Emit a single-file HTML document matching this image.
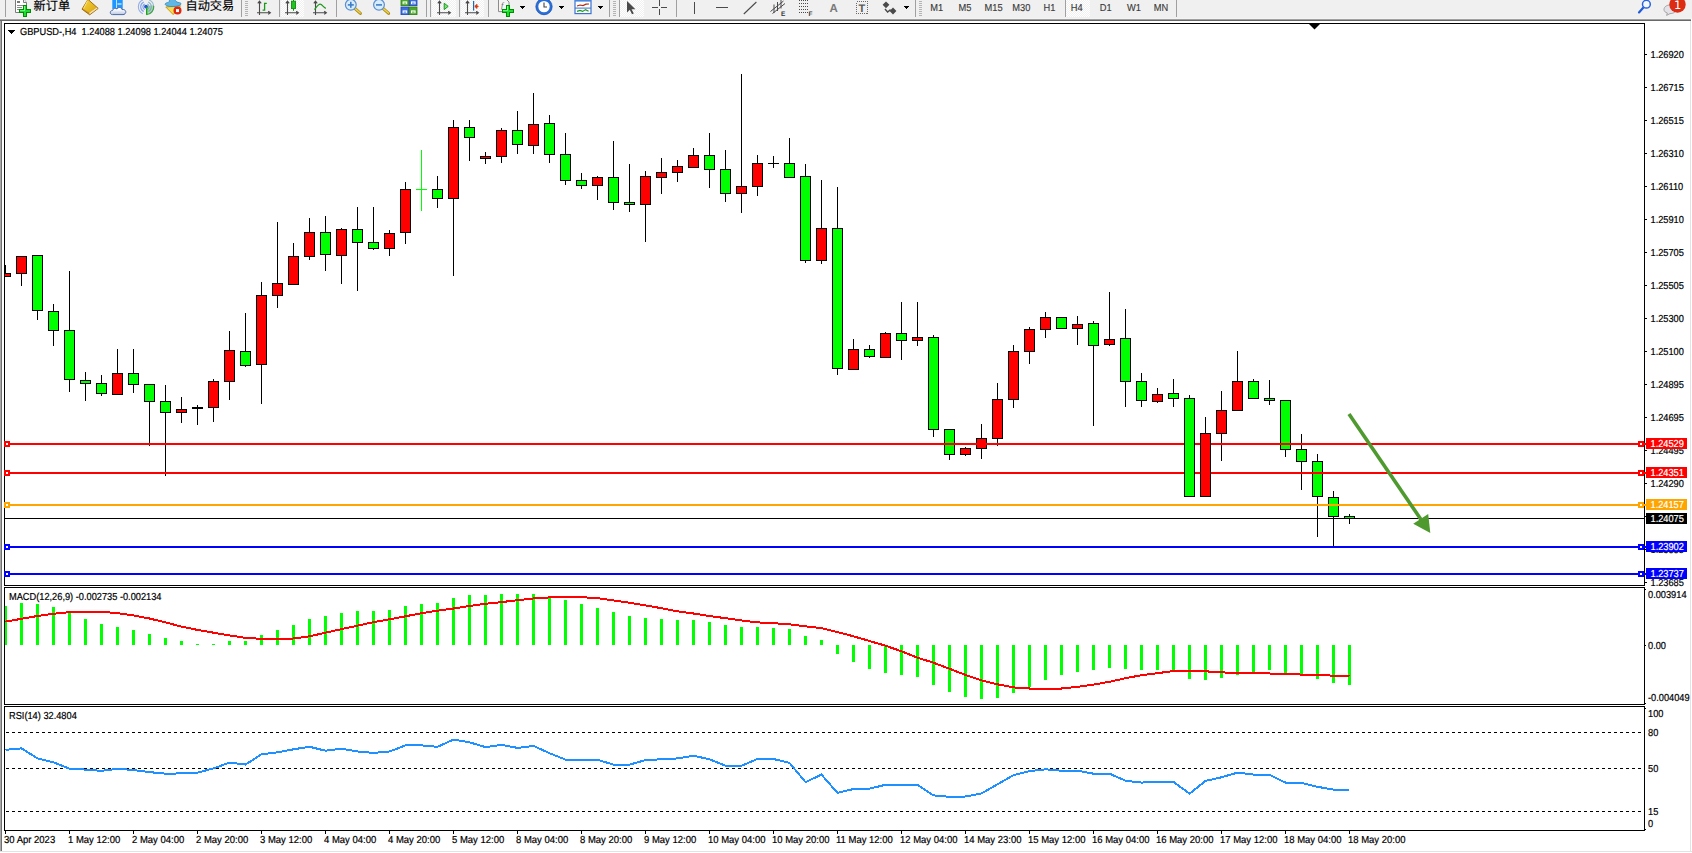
<!DOCTYPE html>
<html lang="zh"><head><meta charset="utf-8"><title>GBPUSD-,H4</title>
<style>html,body{margin:0;padding:0;background:#fff;width:1692px;height:853px;overflow:hidden}</style></head>
<body>
<svg width="1692" height="853" viewBox="0 0 1692 853" style="position:absolute;left:0;top:0;display:block" font-family="&quot;Liberation Sans&quot;, sans-serif" text-rendering="geometricPrecision">
<rect x="0" y="0" width="1692" height="853" fill="#fff"/>
<g shape-rendering="crispEdges">
<rect x="0" y="0" width="1692" height="19" fill="#f0f0f0"/>
<rect x="0" y="18" width="1692" height="1" fill="#f4f4f4"/>
<rect x="0" y="19" width="1691" height="1" fill="#a0a0a0"/>
<rect x="0" y="20" width="1691" height="1" fill="#696969"/>
<rect x="0" y="21" width="1" height="830" fill="#a8a8a8"/>
<rect x="1" y="21" width="1" height="830" fill="#707070"/>
<rect x="1690" y="21" width="1" height="830" fill="#e3e3e3"/>
<rect x="0" y="851" width="1692" height="1" fill="#e3e3e3"/>
<rect x="4" y="23" width="1641" height="1" fill="#000"/>
<rect x="4" y="585" width="1641" height="1" fill="#000"/>
<rect x="4" y="23" width="1" height="563" fill="#000"/>
<rect x="1644" y="23" width="1" height="563" fill="#000"/>
<rect x="4" y="587" width="1641" height="1" fill="#000"/>
<rect x="4" y="704" width="1641" height="1" fill="#000"/>
<rect x="4" y="587" width="1" height="118" fill="#000"/>
<rect x="1644" y="587" width="1" height="118" fill="#000"/>
<rect x="4" y="706" width="1641" height="1" fill="#000"/>
<rect x="4" y="830" width="1641" height="1" fill="#000"/>
<rect x="4" y="706" width="1" height="125" fill="#000"/>
<rect x="1644" y="706" width="1" height="125" fill="#000"/>
</g>
<defs><clipPath id="cm"><rect x="5" y="24" width="1639" height="561"/></clipPath><clipPath id="cd"><rect x="5" y="588" width="1639" height="116"/></clipPath><clipPath id="cr"><rect x="5" y="707" width="1639" height="123"/></clipPath></defs>
<g shape-rendering="crispEdges" clip-path="url(#cm)">
<rect x="5" y="265" width="1" height="12" fill="#000"/><rect x="0" y="273" width="11" height="4" fill="#000"/><rect x="1" y="274" width="9" height="2" fill="#f00"/>
<rect x="21" y="256" width="1" height="30" fill="#000"/><rect x="16" y="256" width="11" height="18" fill="#000"/><rect x="17" y="257" width="9" height="16" fill="#f00"/>
<rect x="37" y="255" width="1" height="65" fill="#000"/><rect x="32" y="255" width="11" height="56" fill="#000"/><rect x="33" y="256" width="9" height="54" fill="#0f0"/>
<rect x="53" y="304" width="1" height="42" fill="#000"/><rect x="48" y="311" width="11" height="20" fill="#000"/><rect x="49" y="312" width="9" height="18" fill="#0f0"/>
<rect x="69" y="271" width="1" height="121" fill="#000"/><rect x="64" y="330" width="11" height="50" fill="#000"/><rect x="65" y="331" width="9" height="48" fill="#0f0"/>
<rect x="85" y="372" width="1" height="29" fill="#000"/><rect x="80" y="380" width="11" height="4" fill="#000"/><rect x="81" y="381" width="9" height="2" fill="#0f0"/>
<rect x="101" y="375" width="1" height="21" fill="#000"/><rect x="96" y="383" width="11" height="11" fill="#000"/><rect x="97" y="384" width="9" height="9" fill="#0f0"/>
<rect x="117" y="349" width="1" height="46" fill="#000"/><rect x="112" y="373" width="11" height="22" fill="#000"/><rect x="113" y="374" width="9" height="20" fill="#f00"/>
<rect x="133" y="349" width="1" height="44" fill="#000"/><rect x="128" y="373" width="11" height="12" fill="#000"/><rect x="129" y="374" width="9" height="10" fill="#0f0"/>
<rect x="149" y="384" width="1" height="62" fill="#000"/><rect x="144" y="384" width="11" height="18" fill="#000"/><rect x="145" y="385" width="9" height="16" fill="#0f0"/>
<rect x="165" y="385" width="1" height="91" fill="#000"/><rect x="160" y="401" width="11" height="12" fill="#000"/><rect x="161" y="402" width="9" height="10" fill="#0f0"/>
<rect x="181" y="397" width="1" height="26" fill="#000"/><rect x="176" y="409" width="11" height="4" fill="#000"/><rect x="177" y="410" width="9" height="2" fill="#f00"/>
<rect x="197" y="405" width="1" height="20" fill="#000"/><rect x="192" y="407" width="11" height="2" fill="#000"/>
<rect x="213" y="379" width="1" height="43" fill="#000"/><rect x="208" y="381" width="11" height="27" fill="#000"/><rect x="209" y="382" width="9" height="25" fill="#f00"/>
<rect x="229" y="331" width="1" height="69" fill="#000"/><rect x="224" y="350" width="11" height="32" fill="#000"/><rect x="225" y="351" width="9" height="30" fill="#f00"/>
<rect x="245" y="313" width="1" height="54" fill="#000"/><rect x="240" y="351" width="11" height="15" fill="#000"/><rect x="241" y="352" width="9" height="13" fill="#0f0"/>
<rect x="261" y="282" width="1" height="122" fill="#000"/><rect x="256" y="295" width="11" height="70" fill="#000"/><rect x="257" y="296" width="9" height="68" fill="#f00"/>
<rect x="277" y="222" width="1" height="86" fill="#000"/><rect x="272" y="283" width="11" height="13" fill="#000"/><rect x="273" y="284" width="9" height="11" fill="#f00"/>
<rect x="293" y="243" width="1" height="42" fill="#000"/><rect x="288" y="256" width="11" height="29" fill="#000"/><rect x="289" y="257" width="9" height="27" fill="#f00"/>
<rect x="309" y="218" width="1" height="42" fill="#000"/><rect x="304" y="232" width="11" height="25" fill="#000"/><rect x="305" y="233" width="9" height="23" fill="#f00"/>
<rect x="325" y="216" width="1" height="55" fill="#000"/><rect x="320" y="232" width="11" height="23" fill="#000"/><rect x="321" y="233" width="9" height="21" fill="#0f0"/>
<rect x="341" y="228" width="1" height="56" fill="#000"/><rect x="336" y="229" width="11" height="27" fill="#000"/><rect x="337" y="230" width="9" height="25" fill="#f00"/>
<rect x="357" y="207" width="1" height="84" fill="#000"/><rect x="352" y="229" width="11" height="14" fill="#000"/><rect x="353" y="230" width="9" height="12" fill="#0f0"/>
<rect x="373" y="207" width="1" height="43" fill="#000"/><rect x="368" y="242" width="11" height="7" fill="#000"/><rect x="369" y="243" width="9" height="5" fill="#0f0"/>
<rect x="389" y="230" width="1" height="26" fill="#000"/><rect x="384" y="233" width="11" height="16" fill="#000"/><rect x="385" y="234" width="9" height="14" fill="#f00"/>
<rect x="405" y="182" width="1" height="62" fill="#000"/><rect x="400" y="189" width="11" height="44" fill="#000"/><rect x="401" y="190" width="9" height="42" fill="#f00"/>
<rect x="421" y="150" width="1" height="61" fill="#0f0"/><rect x="416" y="189" width="11" height="1" fill="#0f0"/>
<rect x="437" y="176" width="1" height="32" fill="#000"/><rect x="432" y="189" width="11" height="10" fill="#000"/><rect x="433" y="190" width="9" height="8" fill="#0f0"/>
<rect x="453" y="120" width="1" height="156" fill="#000"/><rect x="448" y="127" width="11" height="72" fill="#000"/><rect x="449" y="128" width="9" height="70" fill="#f00"/>
<rect x="469" y="120" width="1" height="41" fill="#000"/><rect x="464" y="127" width="11" height="11" fill="#000"/><rect x="465" y="128" width="9" height="9" fill="#0f0"/>
<rect x="485" y="152" width="1" height="12" fill="#000"/><rect x="480" y="156" width="11" height="3" fill="#000"/><rect x="481" y="157" width="9" height="1" fill="#f00"/>
<rect x="501" y="128" width="1" height="35" fill="#000"/><rect x="496" y="130" width="11" height="27" fill="#000"/><rect x="497" y="131" width="9" height="25" fill="#f00"/>
<rect x="517" y="111" width="1" height="43" fill="#000"/><rect x="512" y="130" width="11" height="15" fill="#000"/><rect x="513" y="131" width="9" height="13" fill="#0f0"/>
<rect x="533" y="93" width="1" height="61" fill="#000"/><rect x="528" y="124" width="11" height="22" fill="#000"/><rect x="529" y="125" width="9" height="20" fill="#f00"/>
<rect x="549" y="115" width="1" height="48" fill="#000"/><rect x="544" y="123" width="11" height="32" fill="#000"/><rect x="545" y="124" width="9" height="30" fill="#0f0"/>
<rect x="565" y="133" width="1" height="52" fill="#000"/><rect x="560" y="154" width="11" height="27" fill="#000"/><rect x="561" y="155" width="9" height="25" fill="#0f0"/>
<rect x="581" y="173" width="1" height="16" fill="#000"/><rect x="576" y="180" width="11" height="6" fill="#000"/><rect x="577" y="181" width="9" height="4" fill="#0f0"/>
<rect x="597" y="176" width="1" height="24" fill="#000"/><rect x="592" y="177" width="11" height="9" fill="#000"/><rect x="593" y="178" width="9" height="7" fill="#f00"/>
<rect x="613" y="141" width="1" height="69" fill="#000"/><rect x="608" y="177" width="11" height="26" fill="#000"/><rect x="609" y="178" width="9" height="24" fill="#0f0"/>
<rect x="629" y="164" width="1" height="48" fill="#000"/><rect x="624" y="202" width="11" height="3" fill="#000"/><rect x="625" y="203" width="9" height="1" fill="#0f0"/>
<rect x="645" y="171" width="1" height="71" fill="#000"/><rect x="640" y="176" width="11" height="29" fill="#000"/><rect x="641" y="177" width="9" height="27" fill="#f00"/>
<rect x="661" y="158" width="1" height="36" fill="#000"/><rect x="656" y="172" width="11" height="6" fill="#000"/><rect x="657" y="173" width="9" height="4" fill="#f00"/>
<rect x="677" y="160" width="1" height="22" fill="#000"/><rect x="672" y="166" width="11" height="7" fill="#000"/><rect x="673" y="167" width="9" height="5" fill="#f00"/>
<rect x="693" y="148" width="1" height="20" fill="#000"/><rect x="688" y="155" width="11" height="13" fill="#000"/><rect x="689" y="156" width="9" height="11" fill="#f00"/>
<rect x="709" y="133" width="1" height="55" fill="#000"/><rect x="704" y="155" width="11" height="15" fill="#000"/><rect x="705" y="156" width="9" height="13" fill="#0f0"/>
<rect x="725" y="150" width="1" height="52" fill="#000"/><rect x="720" y="169" width="11" height="25" fill="#000"/><rect x="721" y="170" width="9" height="23" fill="#0f0"/>
<rect x="741" y="74" width="1" height="139" fill="#000"/><rect x="736" y="186" width="11" height="8" fill="#000"/><rect x="737" y="187" width="9" height="6" fill="#f00"/>
<rect x="757" y="155" width="1" height="41" fill="#000"/><rect x="752" y="163" width="11" height="24" fill="#000"/><rect x="753" y="164" width="9" height="22" fill="#f00"/>
<rect x="773" y="156" width="1" height="12" fill="#000"/><rect x="768" y="163" width="11" height="1" fill="#000"/>
<rect x="789" y="138" width="1" height="40" fill="#000"/><rect x="784" y="163" width="11" height="15" fill="#000"/><rect x="785" y="164" width="9" height="13" fill="#0f0"/>
<rect x="805" y="164" width="1" height="99" fill="#000"/><rect x="800" y="176" width="11" height="85" fill="#000"/><rect x="801" y="177" width="9" height="83" fill="#0f0"/>
<rect x="821" y="180" width="1" height="84" fill="#000"/><rect x="816" y="228" width="11" height="33" fill="#000"/><rect x="817" y="229" width="9" height="31" fill="#f00"/>
<rect x="837" y="187" width="1" height="188" fill="#000"/><rect x="832" y="228" width="11" height="141" fill="#000"/><rect x="833" y="229" width="9" height="139" fill="#0f0"/>
<rect x="853" y="339" width="1" height="31" fill="#000"/><rect x="848" y="349" width="11" height="21" fill="#000"/><rect x="849" y="350" width="9" height="19" fill="#f00"/>
<rect x="869" y="345" width="1" height="13" fill="#000"/><rect x="864" y="349" width="11" height="8" fill="#000"/><rect x="865" y="350" width="9" height="6" fill="#0f0"/>
<rect x="885" y="332" width="1" height="26" fill="#000"/><rect x="880" y="333" width="11" height="25" fill="#000"/><rect x="881" y="334" width="9" height="23" fill="#f00"/>
<rect x="901" y="302" width="1" height="58" fill="#000"/><rect x="896" y="333" width="11" height="8" fill="#000"/><rect x="897" y="334" width="9" height="6" fill="#0f0"/>
<rect x="917" y="302" width="1" height="44" fill="#000"/><rect x="912" y="337" width="11" height="4" fill="#000"/><rect x="913" y="338" width="9" height="2" fill="#f00"/>
<rect x="933" y="335" width="1" height="102" fill="#000"/><rect x="928" y="337" width="11" height="93" fill="#000"/><rect x="929" y="338" width="9" height="91" fill="#0f0"/>
<rect x="949" y="429" width="1" height="31" fill="#000"/><rect x="944" y="429" width="11" height="26" fill="#000"/><rect x="945" y="430" width="9" height="24" fill="#0f0"/>
<rect x="965" y="447" width="1" height="9" fill="#000"/><rect x="960" y="448" width="11" height="7" fill="#000"/><rect x="961" y="449" width="9" height="5" fill="#f00"/>
<rect x="981" y="424" width="1" height="35" fill="#000"/><rect x="976" y="438" width="11" height="11" fill="#000"/><rect x="977" y="439" width="9" height="9" fill="#f00"/>
<rect x="997" y="383" width="1" height="63" fill="#000"/><rect x="992" y="399" width="11" height="40" fill="#000"/><rect x="993" y="400" width="9" height="38" fill="#f00"/>
<rect x="1013" y="345" width="1" height="63" fill="#000"/><rect x="1008" y="351" width="11" height="49" fill="#000"/><rect x="1009" y="352" width="9" height="47" fill="#f00"/>
<rect x="1029" y="327" width="1" height="37" fill="#000"/><rect x="1024" y="329" width="11" height="23" fill="#000"/><rect x="1025" y="330" width="9" height="21" fill="#f00"/>
<rect x="1045" y="312" width="1" height="26" fill="#000"/><rect x="1040" y="317" width="11" height="13" fill="#000"/><rect x="1041" y="318" width="9" height="11" fill="#f00"/>
<rect x="1061" y="317" width="1" height="12" fill="#000"/><rect x="1056" y="317" width="11" height="12" fill="#000"/><rect x="1057" y="318" width="9" height="10" fill="#0f0"/>
<rect x="1077" y="316" width="1" height="29" fill="#000"/><rect x="1072" y="324" width="11" height="5" fill="#000"/><rect x="1073" y="325" width="9" height="3" fill="#f00"/>
<rect x="1093" y="321" width="1" height="105" fill="#000"/><rect x="1088" y="323" width="11" height="23" fill="#000"/><rect x="1089" y="324" width="9" height="21" fill="#0f0"/>
<rect x="1109" y="292" width="1" height="54" fill="#000"/><rect x="1104" y="339" width="11" height="6" fill="#000"/><rect x="1105" y="340" width="9" height="4" fill="#f00"/>
<rect x="1125" y="309" width="1" height="98" fill="#000"/><rect x="1120" y="338" width="11" height="44" fill="#000"/><rect x="1121" y="339" width="9" height="42" fill="#0f0"/>
<rect x="1141" y="373" width="1" height="34" fill="#000"/><rect x="1136" y="381" width="11" height="20" fill="#000"/><rect x="1137" y="382" width="9" height="18" fill="#0f0"/>
<rect x="1157" y="388" width="1" height="15" fill="#000"/><rect x="1152" y="394" width="11" height="8" fill="#000"/><rect x="1153" y="395" width="9" height="6" fill="#f00"/>
<rect x="1173" y="379" width="1" height="28" fill="#000"/><rect x="1168" y="393" width="11" height="6" fill="#000"/><rect x="1169" y="394" width="9" height="4" fill="#0f0"/>
<rect x="1221" y="391" width="1" height="70" fill="#000"/><rect x="1216" y="410" width="11" height="24" fill="#000"/><rect x="1217" y="411" width="9" height="22" fill="#f00"/>
<rect x="1237" y="351" width="1" height="60" fill="#000"/><rect x="1232" y="381" width="11" height="30" fill="#000"/><rect x="1233" y="382" width="9" height="28" fill="#f00"/>
<rect x="1253" y="379" width="1" height="20" fill="#000"/><rect x="1248" y="381" width="11" height="18" fill="#000"/><rect x="1249" y="382" width="9" height="16" fill="#0f0"/>
<rect x="1269" y="380" width="1" height="25" fill="#000"/><rect x="1264" y="398" width="11" height="3" fill="#000"/><rect x="1265" y="399" width="9" height="1" fill="#0f0"/>
<rect x="1285" y="400" width="1" height="57" fill="#000"/><rect x="1280" y="400" width="11" height="50" fill="#000"/><rect x="1281" y="401" width="9" height="48" fill="#0f0"/>
<rect x="1301" y="434" width="1" height="56" fill="#000"/><rect x="1296" y="449" width="11" height="13" fill="#000"/><rect x="1297" y="450" width="9" height="11" fill="#0f0"/>
<rect x="1317" y="454" width="1" height="83" fill="#000"/><rect x="1312" y="461" width="11" height="36" fill="#000"/><rect x="1313" y="462" width="9" height="34" fill="#0f0"/>
<rect x="1333" y="491" width="1" height="55" fill="#000"/><rect x="1328" y="497" width="11" height="20" fill="#000"/><rect x="1329" y="498" width="9" height="18" fill="#0f0"/>
<rect x="1349" y="514" width="1" height="10" fill="#000"/><rect x="1344" y="516" width="11" height="3" fill="#000"/><rect x="1345" y="517" width="9" height="1" fill="#0f0"/>
<rect x="5" y="518" width="1639" height="1" fill="#000"/>
<rect x="5" y="443" width="1639" height="2" fill="#f00"/>
<rect x="5" y="472" width="1639" height="2" fill="#f00"/>
<rect x="5" y="504" width="1639" height="2" fill="#ffa500"/>
<rect x="5" y="546" width="1639" height="2" fill="#00f"/>
<rect x="5" y="573" width="1639" height="2" fill="#00f"/>
<rect x="1189" y="395" width="1" height="102" fill="#000"/><rect x="1184" y="398" width="11" height="99" fill="#000"/><rect x="1185" y="399" width="9" height="97" fill="#0f0"/>
<rect x="1205" y="417" width="1" height="80" fill="#000"/><rect x="1200" y="433" width="11" height="64" fill="#000"/><rect x="1201" y="434" width="9" height="62" fill="#f00"/>
<path d="M1309 24 L1320 24 L1314.5 29.5 Z" fill="#000" shape-rendering="geometricPrecision"/>
</g>
<g shape-rendering="crispEdges">
<rect x="1644" y="443" width="2" height="2" fill="#f00"/>
<rect x="1644" y="472" width="2" height="2" fill="#f00"/>
<rect x="1644" y="504" width="2" height="2" fill="#ffa500"/>
<rect x="1644" y="546" width="2" height="2" fill="#00f"/>
<rect x="1644" y="573" width="2" height="2" fill="#00f"/>
<rect x="4" y="441" width="6" height="6" fill="#f00"/>
<rect x="6" y="443" width="2" height="2" fill="#fff"/>
<rect x="1638" y="441" width="6" height="6" fill="#f00"/>
<rect x="1640" y="443" width="2" height="2" fill="#fff"/>
<rect x="4" y="470" width="6" height="6" fill="#f00"/>
<rect x="6" y="472" width="2" height="2" fill="#fff"/>
<rect x="1638" y="470" width="6" height="6" fill="#f00"/>
<rect x="1640" y="472" width="2" height="2" fill="#fff"/>
<rect x="4" y="502" width="6" height="6" fill="#ffa500"/>
<rect x="6" y="504" width="2" height="2" fill="#fff"/>
<rect x="1638" y="502" width="6" height="6" fill="#ffa500"/>
<rect x="1640" y="504" width="2" height="2" fill="#fff"/>
<rect x="4" y="544" width="6" height="6" fill="#00f"/>
<rect x="6" y="546" width="2" height="2" fill="#fff"/>
<rect x="1638" y="544" width="6" height="6" fill="#00f"/>
<rect x="1640" y="546" width="2" height="2" fill="#fff"/>
<rect x="4" y="571" width="6" height="6" fill="#00f"/>
<rect x="6" y="573" width="2" height="2" fill="#fff"/>
<rect x="1638" y="571" width="6" height="6" fill="#00f"/>
<rect x="1640" y="573" width="2" height="2" fill="#fff"/>
</g>
<g clip-path="url(#cm)"><line x1="1349" y1="414" x2="1422" y2="521" stroke="#4f9a2f" stroke-width="3.6"/><path d="M1430.3 533 L1413.2 523.7 L1428.2 514.1 Z" fill="#4f9a2f"/></g>
<g shape-rendering="crispEdges" clip-path="url(#cd)">
<rect x="4" y="606" width="3" height="39" fill="#0f0"/>
<rect x="20" y="603" width="3" height="42" fill="#0f0"/>
<rect x="36" y="604" width="3" height="41" fill="#0f0"/>
<rect x="52" y="607" width="3" height="38" fill="#0f0"/>
<rect x="68" y="613" width="3" height="32" fill="#0f0"/>
<rect x="84" y="619" width="3" height="26" fill="#0f0"/>
<rect x="100" y="624" width="3" height="21" fill="#0f0"/>
<rect x="116" y="627" width="3" height="18" fill="#0f0"/>
<rect x="132" y="630" width="3" height="15" fill="#0f0"/>
<rect x="148" y="634" width="3" height="11" fill="#0f0"/>
<rect x="164" y="638" width="3" height="7" fill="#0f0"/>
<rect x="180" y="641" width="3" height="4" fill="#0f0"/>
<rect x="196" y="644" width="3" height="1" fill="#0f0"/>
<rect x="212" y="644" width="3" height="1" fill="#0f0"/>
<rect x="228" y="641" width="3" height="4" fill="#0f0"/>
<rect x="244" y="641" width="3" height="4" fill="#0f0"/>
<rect x="260" y="635" width="3" height="10" fill="#0f0"/>
<rect x="276" y="630" width="3" height="15" fill="#0f0"/>
<rect x="292" y="625" width="3" height="20" fill="#0f0"/>
<rect x="308" y="619" width="3" height="26" fill="#0f0"/>
<rect x="324" y="616" width="3" height="29" fill="#0f0"/>
<rect x="340" y="613" width="3" height="32" fill="#0f0"/>
<rect x="356" y="611" width="3" height="34" fill="#0f0"/>
<rect x="372" y="611" width="3" height="34" fill="#0f0"/>
<rect x="388" y="610" width="3" height="35" fill="#0f0"/>
<rect x="404" y="606" width="3" height="39" fill="#0f0"/>
<rect x="420" y="604" width="3" height="41" fill="#0f0"/>
<rect x="436" y="603" width="3" height="42" fill="#0f0"/>
<rect x="452" y="598" width="3" height="47" fill="#0f0"/>
<rect x="468" y="595" width="3" height="50" fill="#0f0"/>
<rect x="484" y="595" width="3" height="50" fill="#0f0"/>
<rect x="500" y="594" width="3" height="51" fill="#0f0"/>
<rect x="516" y="594" width="3" height="51" fill="#0f0"/>
<rect x="532" y="594" width="3" height="51" fill="#0f0"/>
<rect x="548" y="596" width="3" height="49" fill="#0f0"/>
<rect x="564" y="600" width="3" height="45" fill="#0f0"/>
<rect x="580" y="604" width="3" height="41" fill="#0f0"/>
<rect x="596" y="608" width="3" height="37" fill="#0f0"/>
<rect x="612" y="612" width="3" height="33" fill="#0f0"/>
<rect x="628" y="616" width="3" height="29" fill="#0f0"/>
<rect x="644" y="618" width="3" height="27" fill="#0f0"/>
<rect x="660" y="619" width="3" height="26" fill="#0f0"/>
<rect x="676" y="620" width="3" height="25" fill="#0f0"/>
<rect x="692" y="620" width="3" height="25" fill="#0f0"/>
<rect x="708" y="622" width="3" height="23" fill="#0f0"/>
<rect x="724" y="625" width="3" height="20" fill="#0f0"/>
<rect x="740" y="627" width="3" height="18" fill="#0f0"/>
<rect x="756" y="627" width="3" height="18" fill="#0f0"/>
<rect x="772" y="628" width="3" height="17" fill="#0f0"/>
<rect x="788" y="629" width="3" height="16" fill="#0f0"/>
<rect x="804" y="636" width="3" height="9" fill="#0f0"/>
<rect x="820" y="640" width="3" height="5" fill="#0f0"/>
<rect x="836" y="645" width="3" height="9" fill="#0f0"/>
<rect x="852" y="645" width="3" height="17" fill="#0f0"/>
<rect x="868" y="645" width="3" height="24" fill="#0f0"/>
<rect x="884" y="645" width="3" height="28" fill="#0f0"/>
<rect x="900" y="645" width="3" height="30" fill="#0f0"/>
<rect x="916" y="645" width="3" height="32" fill="#0f0"/>
<rect x="932" y="645" width="3" height="40" fill="#0f0"/>
<rect x="948" y="645" width="3" height="47" fill="#0f0"/>
<rect x="964" y="645" width="3" height="52" fill="#0f0"/>
<rect x="980" y="645" width="3" height="54" fill="#0f0"/>
<rect x="996" y="645" width="3" height="53" fill="#0f0"/>
<rect x="1012" y="645" width="3" height="48" fill="#0f0"/>
<rect x="1028" y="645" width="3" height="42" fill="#0f0"/>
<rect x="1044" y="645" width="3" height="35" fill="#0f0"/>
<rect x="1060" y="645" width="3" height="30" fill="#0f0"/>
<rect x="1076" y="645" width="3" height="27" fill="#0f0"/>
<rect x="1092" y="645" width="3" height="25" fill="#0f0"/>
<rect x="1108" y="645" width="3" height="23" fill="#0f0"/>
<rect x="1124" y="645" width="3" height="24" fill="#0f0"/>
<rect x="1140" y="645" width="3" height="25" fill="#0f0"/>
<rect x="1156" y="645" width="3" height="25" fill="#0f0"/>
<rect x="1172" y="645" width="3" height="25" fill="#0f0"/>
<rect x="1188" y="645" width="3" height="34" fill="#0f0"/>
<rect x="1204" y="645" width="3" height="35" fill="#0f0"/>
<rect x="1220" y="645" width="3" height="33" fill="#0f0"/>
<rect x="1236" y="645" width="3" height="30" fill="#0f0"/>
<rect x="1252" y="645" width="3" height="28" fill="#0f0"/>
<rect x="1268" y="645" width="3" height="25" fill="#0f0"/>
<rect x="1284" y="645" width="3" height="29" fill="#0f0"/>
<rect x="1300" y="645" width="3" height="30" fill="#0f0"/>
<rect x="1316" y="645" width="3" height="34" fill="#0f0"/>
<rect x="1332" y="645" width="3" height="38" fill="#0f0"/>
<rect x="1348" y="645" width="3" height="40" fill="#0f0"/>
<polyline points="5.5,621.6 21.5,618.8 37.5,616.0 53.5,613.8 69.5,612.1 85.5,611.8 101.5,611.8 117.5,613.2 133.5,615.4 149.5,618.5 165.5,622.4 181.5,626.6 197.5,629.9 213.5,632.7 229.5,635.4 245.5,637.9 261.5,638.8 277.5,638.8 293.5,638.5 309.5,636.3 325.5,632.7 341.5,629.1 357.5,625.7 373.5,622.1 389.5,619.3 405.5,616.3 421.5,613.2 437.5,610.7 453.5,608.5 469.5,606.0 485.5,603.8 501.5,602.1 517.5,600.2 533.5,598.5 549.5,597.4 565.5,597.1 581.5,597.1 597.5,598.2 613.5,600.4 629.5,602.7 645.5,605.4 661.5,608.2 677.5,611.3 693.5,613.5 709.5,616.0 725.5,618.2 741.5,620.4 757.5,622.4 773.5,623.2 789.5,624.3 805.5,626.3 821.5,628.2 837.5,632.1 853.5,636.3 869.5,641.0 885.5,645.7 901.5,651.3 917.5,657.7 933.5,662.7 949.5,668.8 965.5,674.9 981.5,680.4 997.5,684.3 1013.5,687.4 1029.5,688.5 1045.5,688.5 1061.5,688.5 1077.5,686.8 1093.5,684.6 1109.5,681.8 1125.5,678.2 1141.5,675.2 1157.5,673.2 1173.5,671.0 1189.5,670.7 1205.5,671.3 1221.5,672.4 1237.5,672.9 1253.5,672.9 1269.5,673.5 1285.5,673.8 1301.5,674.6 1317.5,674.9 1333.5,675.7 1349.5,676.0" fill="none" stroke="#f00" stroke-width="2"/>
</g>
<g shape-rendering="crispEdges" clip-path="url(#cr)">
<line x1="6" y1="732.5" x2="1644" y2="732.5" stroke="#000" stroke-width="1" stroke-dasharray="3 3"/>
<line x1="6" y1="768.5" x2="1644" y2="768.5" stroke="#000" stroke-width="1" stroke-dasharray="3 3"/>
<line x1="6" y1="811.5" x2="1644" y2="811.5" stroke="#000" stroke-width="1" stroke-dasharray="3 3"/>
<polyline points="5.5,749.8 21.5,748.4 37.5,758.4 53.5,762.3 69.5,768.7 85.5,769.6 101.5,770.9 117.5,768.7 133.5,770.1 149.5,772.1 165.5,773.7 181.5,773.4 197.5,772.6 213.5,768.4 229.5,762.6 245.5,764.6 261.5,754.3 277.5,752.3 293.5,749.3 309.5,746.8 325.5,750.7 341.5,748.7 357.5,751.5 373.5,752.9 389.5,751.5 405.5,745.4 421.5,745.4 437.5,746.8 453.5,739.6 469.5,742.3 485.5,747.1 501.5,744.8 517.5,747.9 533.5,745.9 549.5,753.2 565.5,759.6 581.5,759.8 597.5,759.8 613.5,764.6 629.5,764.6 645.5,760.1 661.5,759.3 677.5,758.4 693.5,755.7 709.5,759.3 725.5,765.7 741.5,765.7 757.5,759.0 773.5,759.0 789.5,762.9 805.5,782.1 821.5,774.6 837.5,792.9 853.5,789.0 869.5,788.7 885.5,784.8 901.5,784.8 917.5,784.8 933.5,795.4 949.5,796.8 965.5,796.5 981.5,793.4 997.5,784.3 1013.5,775.1 1029.5,771.2 1045.5,769.3 1061.5,770.7 1077.5,770.7 1093.5,773.7 1109.5,773.7 1125.5,780.7 1141.5,782.6 1157.5,781.8 1173.5,781.8 1189.5,793.7 1205.5,780.9 1221.5,777.3 1237.5,772.6 1253.5,774.6 1269.5,774.8 1285.5,782.6 1301.5,782.9 1317.5,786.8 1333.5,789.6 1349.5,789.8" fill="none" stroke="#1e90ff" stroke-width="2"/>
</g>
<g shape-rendering="crispEdges">
<rect x="1645" y="54" width="2" height="1" fill="#000"/>
<rect x="1645" y="87" width="2" height="1" fill="#000"/>
<rect x="1645" y="120" width="2" height="1" fill="#000"/>
<rect x="1645" y="153" width="2" height="1" fill="#000"/>
<rect x="1645" y="186" width="2" height="1" fill="#000"/>
<rect x="1645" y="219" width="2" height="1" fill="#000"/>
<rect x="1645" y="252" width="2" height="1" fill="#000"/>
<rect x="1645" y="285" width="2" height="1" fill="#000"/>
<rect x="1645" y="318" width="2" height="1" fill="#000"/>
<rect x="1645" y="351" width="2" height="1" fill="#000"/>
<rect x="1645" y="384" width="2" height="1" fill="#000"/>
<rect x="1645" y="417" width="2" height="1" fill="#000"/>
<rect x="1645" y="450" width="2" height="1" fill="#000"/>
<rect x="1645" y="483" width="2" height="1" fill="#000"/>
<rect x="1645" y="516" width="2" height="1" fill="#000"/>
<rect x="1645" y="549" width="2" height="1" fill="#000"/>
<rect x="1645" y="582" width="2" height="1" fill="#000"/>
<rect x="1645" y="589" width="1" height="1" fill="#000"/>
<rect x="1645" y="645" width="1" height="1" fill="#000"/>
<rect x="1645" y="703" width="1" height="1" fill="#000"/>
<rect x="1645" y="708" width="1" height="1" fill="#000"/>
<rect x="1645" y="829" width="1" height="1" fill="#000"/>
<rect x="5" y="831" width="1" height="3" fill="#000"/>
<rect x="69" y="831" width="1" height="3" fill="#000"/>
<rect x="133" y="831" width="1" height="3" fill="#000"/>
<rect x="197" y="831" width="1" height="3" fill="#000"/>
<rect x="261" y="831" width="1" height="3" fill="#000"/>
<rect x="325" y="831" width="1" height="3" fill="#000"/>
<rect x="389" y="831" width="1" height="3" fill="#000"/>
<rect x="453" y="831" width="1" height="3" fill="#000"/>
<rect x="517" y="831" width="1" height="3" fill="#000"/>
<rect x="581" y="831" width="1" height="3" fill="#000"/>
<rect x="645" y="831" width="1" height="3" fill="#000"/>
<rect x="709" y="831" width="1" height="3" fill="#000"/>
<rect x="773" y="831" width="1" height="3" fill="#000"/>
<rect x="837" y="831" width="1" height="3" fill="#000"/>
<rect x="901" y="831" width="1" height="3" fill="#000"/>
<rect x="965" y="831" width="1" height="3" fill="#000"/>
<rect x="1029" y="831" width="1" height="3" fill="#000"/>
<rect x="1093" y="831" width="1" height="3" fill="#000"/>
<rect x="1157" y="831" width="1" height="3" fill="#000"/>
<rect x="1221" y="831" width="1" height="3" fill="#000"/>
<rect x="1285" y="831" width="1" height="3" fill="#000"/>
<rect x="1349" y="831" width="1" height="3" fill="#000"/>
</g>
<text transform="translate(1650.5 58) scale(0.915 1)" font-size="10.1" fill="#000" stroke="#000" stroke-width="0.2" text-anchor="start">1.26920</text>
<text transform="translate(1650.5 91) scale(0.915 1)" font-size="10.1" fill="#000" stroke="#000" stroke-width="0.2" text-anchor="start">1.26715</text>
<text transform="translate(1650.5 124) scale(0.915 1)" font-size="10.1" fill="#000" stroke="#000" stroke-width="0.2" text-anchor="start">1.26515</text>
<text transform="translate(1650.5 157) scale(0.915 1)" font-size="10.1" fill="#000" stroke="#000" stroke-width="0.2" text-anchor="start">1.26310</text>
<text transform="translate(1650.5 190) scale(0.915 1)" font-size="10.1" fill="#000" stroke="#000" stroke-width="0.2" text-anchor="start">1.26110</text>
<text transform="translate(1650.5 223) scale(0.915 1)" font-size="10.1" fill="#000" stroke="#000" stroke-width="0.2" text-anchor="start">1.25910</text>
<text transform="translate(1650.5 256) scale(0.915 1)" font-size="10.1" fill="#000" stroke="#000" stroke-width="0.2" text-anchor="start">1.25705</text>
<text transform="translate(1650.5 289) scale(0.915 1)" font-size="10.1" fill="#000" stroke="#000" stroke-width="0.2" text-anchor="start">1.25505</text>
<text transform="translate(1650.5 322) scale(0.915 1)" font-size="10.1" fill="#000" stroke="#000" stroke-width="0.2" text-anchor="start">1.25300</text>
<text transform="translate(1650.5 355) scale(0.915 1)" font-size="10.1" fill="#000" stroke="#000" stroke-width="0.2" text-anchor="start">1.25100</text>
<text transform="translate(1650.5 388) scale(0.915 1)" font-size="10.1" fill="#000" stroke="#000" stroke-width="0.2" text-anchor="start">1.24895</text>
<text transform="translate(1650.5 421) scale(0.915 1)" font-size="10.1" fill="#000" stroke="#000" stroke-width="0.2" text-anchor="start">1.24695</text>
<text transform="translate(1650.5 454) scale(0.915 1)" font-size="10.1" fill="#000" stroke="#000" stroke-width="0.2" text-anchor="start">1.24495</text>
<text transform="translate(1650.5 487) scale(0.915 1)" font-size="10.1" fill="#000" stroke="#000" stroke-width="0.2" text-anchor="start">1.24290</text>
<text transform="translate(1650.5 553) scale(0.915 1)" font-size="10.1" fill="#000" stroke="#000" stroke-width="0.2" text-anchor="start">1.23885</text>
<text transform="translate(1650.5 586) scale(0.915 1)" font-size="10.1" fill="#000" stroke="#000" stroke-width="0.2" text-anchor="start">1.23685</text>
<rect x="1646" y="438.0" width="41" height="11" fill="#f00" shape-rendering="crispEdges"/>
<text transform="translate(1650.5 447.0) scale(0.915 1)" font-size="10.1" fill="#fff" stroke="#fff" stroke-width="0.2" text-anchor="start">1.24529</text>
<rect x="1646" y="467.0" width="41" height="11" fill="#f00" shape-rendering="crispEdges"/>
<text transform="translate(1650.5 476.0) scale(0.915 1)" font-size="10.1" fill="#fff" stroke="#fff" stroke-width="0.2" text-anchor="start">1.24351</text>
<rect x="1646" y="499.0" width="41" height="11" fill="#ffa500" shape-rendering="crispEdges"/>
<text transform="translate(1650.5 508.0) scale(0.915 1)" font-size="10.1" fill="#fff" stroke="#fff" stroke-width="0.2" text-anchor="start">1.24157</text>
<rect x="1646" y="513.0" width="41" height="11" fill="#000" shape-rendering="crispEdges"/>
<text transform="translate(1650.5 522.0) scale(0.915 1)" font-size="10.1" fill="#fff" stroke="#fff" stroke-width="0.2" text-anchor="start">1.24075</text>
<rect x="1646" y="541.0" width="41" height="11" fill="#00f" shape-rendering="crispEdges"/>
<text transform="translate(1650.5 550.0) scale(0.915 1)" font-size="10.1" fill="#fff" stroke="#fff" stroke-width="0.2" text-anchor="start">1.23902</text>
<rect x="1646" y="568.0" width="41" height="11" fill="#00f" shape-rendering="crispEdges"/>
<text transform="translate(1650.5 577.0) scale(0.915 1)" font-size="10.1" fill="#fff" stroke="#fff" stroke-width="0.2" text-anchor="start">1.23737</text>
<text transform="translate(1648 598) scale(0.915 1)" font-size="10.1" fill="#000" stroke="#000" stroke-width="0.2" text-anchor="start">0.003914</text>
<text transform="translate(1648 649) scale(0.915 1)" font-size="10.1" fill="#000" stroke="#000" stroke-width="0.2" text-anchor="start">0.00</text>
<text transform="translate(1648 701) scale(0.915 1)" font-size="10.1" fill="#000" stroke="#000" stroke-width="0.2" text-anchor="start">-0.004049</text>
<text transform="translate(1648 717) scale(0.915 1)" font-size="10.1" fill="#000" stroke="#000" stroke-width="0.2" text-anchor="start">100</text>
<text transform="translate(1648 736) scale(0.915 1)" font-size="10.1" fill="#000" stroke="#000" stroke-width="0.2" text-anchor="start">80</text>
<text transform="translate(1648 772) scale(0.915 1)" font-size="10.1" fill="#000" stroke="#000" stroke-width="0.2" text-anchor="start">50</text>
<text transform="translate(1648 815) scale(0.915 1)" font-size="10.1" fill="#000" stroke="#000" stroke-width="0.2" text-anchor="start">15</text>
<text transform="translate(1648 827) scale(0.915 1)" font-size="10.1" fill="#000" stroke="#000" stroke-width="0.2" text-anchor="start">0</text>
<text transform="translate(4 843) scale(0.94 1)" font-size="10.1" fill="#000" stroke="#000" stroke-width="0.2" text-anchor="start">30 Apr 2023</text>
<text transform="translate(68 843) scale(0.94 1)" font-size="10.1" fill="#000" stroke="#000" stroke-width="0.2" text-anchor="start">1 May 12:00</text>
<text transform="translate(132 843) scale(0.94 1)" font-size="10.1" fill="#000" stroke="#000" stroke-width="0.2" text-anchor="start">2 May 04:00</text>
<text transform="translate(196 843) scale(0.94 1)" font-size="10.1" fill="#000" stroke="#000" stroke-width="0.2" text-anchor="start">2 May 20:00</text>
<text transform="translate(260 843) scale(0.94 1)" font-size="10.1" fill="#000" stroke="#000" stroke-width="0.2" text-anchor="start">3 May 12:00</text>
<text transform="translate(324 843) scale(0.94 1)" font-size="10.1" fill="#000" stroke="#000" stroke-width="0.2" text-anchor="start">4 May 04:00</text>
<text transform="translate(388 843) scale(0.94 1)" font-size="10.1" fill="#000" stroke="#000" stroke-width="0.2" text-anchor="start">4 May 20:00</text>
<text transform="translate(452 843) scale(0.94 1)" font-size="10.1" fill="#000" stroke="#000" stroke-width="0.2" text-anchor="start">5 May 12:00</text>
<text transform="translate(516 843) scale(0.94 1)" font-size="10.1" fill="#000" stroke="#000" stroke-width="0.2" text-anchor="start">8 May 04:00</text>
<text transform="translate(580 843) scale(0.94 1)" font-size="10.1" fill="#000" stroke="#000" stroke-width="0.2" text-anchor="start">8 May 20:00</text>
<text transform="translate(644 843) scale(0.94 1)" font-size="10.1" fill="#000" stroke="#000" stroke-width="0.2" text-anchor="start">9 May 12:00</text>
<text transform="translate(708 843) scale(0.94 1)" font-size="10.1" fill="#000" stroke="#000" stroke-width="0.2" text-anchor="start">10 May 04:00</text>
<text transform="translate(772 843) scale(0.94 1)" font-size="10.1" fill="#000" stroke="#000" stroke-width="0.2" text-anchor="start">10 May 20:00</text>
<text transform="translate(836 843) scale(0.94 1)" font-size="10.1" fill="#000" stroke="#000" stroke-width="0.2" text-anchor="start">11 May 12:00</text>
<text transform="translate(900 843) scale(0.94 1)" font-size="10.1" fill="#000" stroke="#000" stroke-width="0.2" text-anchor="start">12 May 04:00</text>
<text transform="translate(964 843) scale(0.94 1)" font-size="10.1" fill="#000" stroke="#000" stroke-width="0.2" text-anchor="start">14 May 23:00</text>
<text transform="translate(1028 843) scale(0.94 1)" font-size="10.1" fill="#000" stroke="#000" stroke-width="0.2" text-anchor="start">15 May 12:00</text>
<text transform="translate(1092 843) scale(0.94 1)" font-size="10.1" fill="#000" stroke="#000" stroke-width="0.2" text-anchor="start">16 May 04:00</text>
<text transform="translate(1156 843) scale(0.94 1)" font-size="10.1" fill="#000" stroke="#000" stroke-width="0.2" text-anchor="start">16 May 20:00</text>
<text transform="translate(1220 843) scale(0.94 1)" font-size="10.1" fill="#000" stroke="#000" stroke-width="0.2" text-anchor="start">17 May 12:00</text>
<text transform="translate(1284 843) scale(0.94 1)" font-size="10.1" fill="#000" stroke="#000" stroke-width="0.2" text-anchor="start">18 May 04:00</text>
<text transform="translate(1348 843) scale(0.94 1)" font-size="10.1" fill="#000" stroke="#000" stroke-width="0.2" text-anchor="start">18 May 20:00</text>
<path d="M8 30h7v1h-1v1h-1v1h-1v1h-1v-1h-1v-1h-1v-1h-1z" fill="#000" shape-rendering="crispEdges"/>
<text transform="translate(20 35) scale(0.915 1)" font-size="10.1" fill="#000" stroke="#000" stroke-width="0.2" text-anchor="start">GBPUSD-,H4&#160; 1.24088 1.24098 1.24044 1.24075</text>
<text transform="translate(9 600) scale(0.915 1)" font-size="10.1" fill="#000" stroke="#000" stroke-width="0.2" text-anchor="start">MACD(12,26,9) -0.002735 -0.002134</text>
<text transform="translate(9 719) scale(0.915 1)" font-size="10.1" fill="#000" stroke="#000" stroke-width="0.2" text-anchor="start">RSI(14) 32.4804</text>
<g id="toolbar">
<defs><clipPath id="ct"><rect x="0" y="0" width="1692" height="19"/></clipPath><pattern id="chk" width="2" height="2" patternUnits="userSpaceOnUse"><rect width="2" height="2" fill="#f0f0f0"/><rect width="1" height="1" fill="#fff"/><rect x="1" y="1" width="1" height="1" fill="#fff"/></pattern><linearGradient id="gy" x1="0" y1="0" x2="1" y2="1"><stop offset="0" stop-color="#f7d23a"/><stop offset="1" stop-color="#d9a514"/></linearGradient><linearGradient id="gg" x1="0" y1="0" x2="0" y2="1"><stop offset="0" stop-color="#7cf27c"/><stop offset="1" stop-color="#14c414"/></linearGradient><linearGradient id="gc" x1="0" y1="0" x2="0" y2="1"><stop offset="0.3" stop-color="#fbfcff"/><stop offset="1" stop-color="#b9c6e2"/></linearGradient></defs>
<g clip-path="url(#ct)">
<rect x="5" y="0" width="1" height="17" fill="#a0a0a0" shape-rendering="crispEdges"/>
<path d="M15.5 -1 L23.5 -1 L26.5 2.5 L26.5 12.5 L15.5 12.5 Z" fill="#fff" stroke="#7c7c7c" stroke-width="1"/>
<path d="M23.5 -1 L23.5 2.5 L26.5 2.5" fill="#f4f4f4" stroke="#7c7c7c" stroke-width="1"/>
<rect x="17" y="1" width="3" height="2" fill="#787878" shape-rendering="crispEdges"/>
<rect x="17" y="5" width="6" height="1" fill="#8a8a8a" shape-rendering="crispEdges"/>
<rect x="17" y="7" width="5" height="1" fill="#8a8a8a" shape-rendering="crispEdges"/>
<rect x="17" y="9" width="3" height="1" fill="#8a8a8a" shape-rendering="crispEdges"/>
<g shape-rendering="crispEdges"><rect x="19" y="9" width="12" height="4" fill="#008c00"/><rect x="23" y="5" width="4" height="12" fill="#008c00"/><rect x="20" y="10" width="10" height="2" fill="#1fdc30"/><rect x="24" y="6" width="2" height="10" fill="#1fdc30"/><rect x="20" y="10" width="5" height="1" fill="#6cf47c"/><rect x="24" y="6" width="1" height="5" fill="#7cf88a"/></g>
<text x="33.6" y="10.4" font-size="12.2" fill="#000" stroke="#000" stroke-width="0.15" font-family="&quot;Liberation Sans&quot;, &quot;Noto Sans CJK SC&quot;, sans-serif">新订单</text>
<path d="M88 -0.6 L98.2 8.4 L89.7 14.8 L82 9.2 Z" fill="#c8901c" stroke="#9a6408" stroke-width="0.9" stroke-linejoin="round"/>
<path d="M89.2 12.6 L96.6 7.4 L97.6 8.4 L89.7 14.2 Z" fill="#f2e2b0"/>
<path d="M88 0 L96.4 7.4 L89 12.6 L83 8.8 Z" fill="url(#gy)"/>
<path d="M87.6 0.6 L83.6 8.6" stroke="#fbe98a" stroke-width="0.9" fill="none"/>
<rect x="112.3" y="-1" width="10.4" height="10" fill="#1e96ff"/>
<rect x="116" y="-1" width="1" height="9" fill="#bfe3ff"/>
<rect x="117.5" y="3.4" width="4" height="1.2" fill="#e6f4ff"/>
<path d="M112.5 14.6 C109.5 14.6 109.5 10.6 112.6 10.4 C112.8 8.4 115.6 7.6 117 9 C118 6.8 121.6 7 122 9.6 C125.4 8.8 126.8 12.2 125 13.8 C124.4 14.5 123.6 14.6 123 14.6 Z" fill="url(#gc)" stroke="#4c6aa6" stroke-width="1"/>
<path d="M146 6.8 L146 14.8 A8 8 0 0 0 153.8 5 Z" fill="#4aa84a" opacity=".38"/>
<path d="M142.79 13.69 A7.6 7.6 0 0 1 142.79 -0.09" fill="none" stroke="#4a78e0" stroke-width="1.1" opacity="0.55"/>
<path d="M149.21 -0.09 A7.6 7.6 0 0 1 149.21 13.69" fill="none" stroke="#5a94b8" stroke-width="1.1" opacity="0.55"/>
<path d="M143.76 11.60 A5.3 5.3 0 0 1 143.76 2.00" fill="none" stroke="#4a78e0" stroke-width="1.1" opacity="0.65"/>
<path d="M148.24 2.00 A5.3 5.3 0 0 1 148.24 11.60" fill="none" stroke="#5a94b8" stroke-width="1.1" opacity="0.65"/>
<path d="M144.69 9.61 A3.1 3.1 0 0 1 144.69 3.99" fill="none" stroke="#4a78e0" stroke-width="1.1" opacity="0.7"/>
<path d="M147.31 3.99 A3.1 3.1 0 0 1 147.31 9.61" fill="none" stroke="#5a94b8" stroke-width="1.1" opacity="0.7"/>
<path d="M146.6 14.7 A7.9 7.9 0 0 0 153.7 6" fill="none" stroke="#2f9e2f" stroke-width="1.2" opacity=".8"/>
<circle cx="146" cy="6.6" r="1.9" fill="#1f56d8"/>
<rect x="146" y="7.2" width="1.4" height="7.6" fill="#17a617"/>
<path d="M165.8 7 L180.6 5.8 L173.2 14.6 Z" fill="#f8dc50" stroke="#c99a10" stroke-width="1" stroke-linejoin="round"/>
<path d="M169.6 -1 L174.8 -1 C175.2 1 176.5 2 178 2.4 C180 2.6 181.2 3 181 4 C180.6 5.6 176 6.6 172 6.6 C168.4 6.6 165.2 5.6 165.2 4.2 C165.2 3 167 2.6 168.4 2.4 C169.4 1.8 169.6 0 169.6 -1 Z" fill="#62b6e4" stroke="#2a86bc" stroke-width="0.8"/>
<circle cx="177.5" cy="10.6" r="4" fill="#e02810"/>
<rect x="176" y="9.1" width="3" height="3" fill="#fff"/>
<text x="185.5" y="10.4" font-size="12.2" fill="#000" stroke="#000" stroke-width="0.15" font-family="&quot;Liberation Sans&quot;, &quot;Noto Sans CJK SC&quot;, sans-serif">自动交易</text>
<rect x="241" y="0" width="1" height="17" fill="#a0a0a0" shape-rendering="crispEdges"/>
<rect x="245" y="1" width="3" height="1" fill="#b4b4b4" shape-rendering="crispEdges"/>
<rect x="245" y="3" width="3" height="1" fill="#b4b4b4" shape-rendering="crispEdges"/>
<rect x="245" y="5" width="3" height="1" fill="#b4b4b4" shape-rendering="crispEdges"/>
<rect x="245" y="7" width="3" height="1" fill="#b4b4b4" shape-rendering="crispEdges"/>
<rect x="245" y="9" width="3" height="1" fill="#b4b4b4" shape-rendering="crispEdges"/>
<rect x="245" y="11" width="3" height="1" fill="#b4b4b4" shape-rendering="crispEdges"/>
<rect x="245" y="13" width="3" height="1" fill="#b4b4b4" shape-rendering="crispEdges"/>
<rect x="245" y="15" width="3" height="1" fill="#b4b4b4" shape-rendering="crispEdges"/>
<path d="M259.5 1.5 V15 M257 12.8 H270.2 M257.8 3.4 L259.5 1.2 L261.2 3.4 M268.2 11.2 L270.4 12.8 L268.2 14.4" fill="none" stroke="#4a4a4a" stroke-width="1.1"/>
<path d="M266.8 3.4 H264.6 V10.2 H262.6" fill="none" stroke="#1a9a1a" stroke-width="1.3"/>
<rect x="279" y="0" width="1" height="17" fill="#a0a0a0" shape-rendering="crispEdges"/>
<rect x="281" y="0" width="23" height="17" fill="url(#chk)" shape-rendering="crispEdges"/>
<path d="M287.5 1.5 V15 M285 12.8 H298.2 M285.8 3.4 L287.5 1.2 L289.2 3.4 M296.2 11.2 L298.4 12.8 L296.2 14.4" fill="none" stroke="#4a4a4a" stroke-width="1.1"/>
<rect x="291.5" y="1.2" width="4" height="7.4" fill="#22c422" stroke="#118a11" stroke-width="0.9"/><rect x="293" y="8.6" width="1" height="2.2" fill="#118a11"/><rect x="293" y="0" width="1" height="1.2" fill="#118a11"/>
<path d="M315.5 1.5 V15 M313 12.8 H326.2 M313.8 3.4 L315.5 1.2 L317.2 3.4 M324.2 11.2 L326.4 12.8 L324.2 14.4" fill="none" stroke="#4a4a4a" stroke-width="1.1"/>
<path d="M314.5 9.6 C317 6 319 3.2 321 4.4 C322.6 5.2 323.6 7.4 325.8 8.4" fill="none" stroke="#1a9a1a" stroke-width="1.2"/>
<rect x="336" y="0" width="1" height="17" fill="#a0a0a0" shape-rendering="crispEdges"/>
<line x1="354.8" y1="8.4" x2="360.40000000000003" y2="13.4" stroke="#a98a1a" stroke-width="3" stroke-linecap="round"/>
<line x1="355.2" y1="8.6" x2="360.2" y2="13" stroke="#efd24a" stroke-width="1.4" stroke-linecap="round"/>
<circle cx="350.8" cy="4.8" r="5.4" fill="#d8ecfb" stroke="#5b8fd0" stroke-width="1.2"/>
<rect x="347.8" y="4.1" width="6" height="1.6" fill="#3f7fc8"/>
<rect x="350.0" y="1.8" width="1.6" height="6" fill="#3f7fc8"/>
<line x1="383" y1="8.4" x2="388.6" y2="13.4" stroke="#a98a1a" stroke-width="3" stroke-linecap="round"/>
<line x1="383.4" y1="8.6" x2="388.4" y2="13" stroke="#efd24a" stroke-width="1.4" stroke-linecap="round"/>
<circle cx="379" cy="4.8" r="5.4" fill="#d8ecfb" stroke="#5b8fd0" stroke-width="1.2"/>
<rect x="376" y="4.1" width="6" height="1.6" fill="#3f7fc8"/>
<rect x="401" y="-2" width="7.6" height="7.6" fill="#4aa82a" stroke="#2e7d14" stroke-width="0.8"/>
<rect x="402.6" y="1.4" width="4.6" height="2.8" fill="#fff"/><rect x="403.6" y="2.5999999999999996" width="2.6" height="1" fill="#4aa82a"/>
<rect x="409.4" y="-2" width="7.6" height="7.6" fill="#3a6ee0" stroke="#1e46b0" stroke-width="0.8"/>
<rect x="411.0" y="1.4" width="4.6" height="2.8" fill="#fff"/><rect x="412.0" y="2.5999999999999996" width="2.6" height="1" fill="#3a6ee0"/>
<rect x="401" y="7" width="7.6" height="7.6" fill="#3a6ee0" stroke="#1e46b0" stroke-width="0.8"/>
<rect x="402.6" y="10.4" width="4.6" height="2.8" fill="#fff"/><rect x="403.6" y="11.6" width="2.6" height="1" fill="#3a6ee0"/>
<rect x="409.4" y="7" width="7.6" height="7.6" fill="#4aa82a" stroke="#2e7d14" stroke-width="0.8"/>
<rect x="411.0" y="10.4" width="4.6" height="2.8" fill="#fff"/><rect x="412.0" y="11.6" width="2.6" height="1" fill="#4aa82a"/>
<rect x="426" y="0" width="1" height="17" fill="#a0a0a0" shape-rendering="crispEdges"/>
<rect x="430" y="0" width="1" height="17" fill="#a0a0a0" shape-rendering="crispEdges"/>
<rect x="432" y="0" width="24" height="17" fill="url(#chk)" shape-rendering="crispEdges"/>
<path d="M439.5 1.5 V15 M437 12.8 H450.2 M437.8 3.4 L439.5 1.2 L441.2 3.4 M448.2 11.2 L450.4 12.8 L448.2 14.4" fill="none" stroke="#4a4a4a" stroke-width="1.1"/>
<path d="M444.2 3.2 L448.2 6.4 L444.2 9.6 Z" fill="#7fe07f" stroke="#1a9a1a" stroke-width="1"/>
<rect x="459" y="0" width="1" height="17" fill="#a0a0a0" shape-rendering="crispEdges"/>
<rect x="461" y="0" width="23" height="17" fill="url(#chk)" shape-rendering="crispEdges"/>
<path d="M467.5 1.5 V15 M465 12.8 H478.2 M465.8 3.4 L467.5 1.2 L469.2 3.4 M476.2 11.2 L478.4 12.8 L476.2 14.4" fill="none" stroke="#4a4a4a" stroke-width="1.1"/>
<rect x="473" y="1" width="1.2" height="9.6" fill="#1a6ab8"/>
<path d="M478.6 6.4 H475 M477 4.4 L474.8 6.4 L477 8.4 Z" fill="#d83a10" stroke="#d83a10" stroke-width="1"/>
<rect x="488" y="0" width="1" height="17" fill="#a0a0a0" shape-rendering="crispEdges"/>
<path d="M498.5 -1 L506 -1 L509 2 L509 11.6 L498.5 11.6 Z" fill="#f4f4f4" stroke="#8c8c8c" stroke-width="1"/>
<text x="501" y="8" font-size="8" font-style="italic" fill="#666" font-family="&quot;Liberation Serif&quot;, serif">f</text>
<g shape-rendering="crispEdges"><rect x="502" y="9" width="12" height="4" fill="#008c00"/><rect x="506" y="5" width="4" height="12" fill="#008c00"/><rect x="503" y="10" width="10" height="2" fill="#1fdc30"/><rect x="507" y="6" width="2" height="10" fill="#1fdc30"/><rect x="503" y="10" width="5" height="1" fill="#6cf47c"/><rect x="507" y="6" width="1" height="5" fill="#7cf88a"/></g>
<path d="M520 6h5v1h-1v1h-1v1h-1v-1h-1v-1h-1z" fill="#000" shape-rendering="crispEdges"/>
<circle cx="544" cy="6.6" r="7" fill="#fff" stroke="#2a6fd8" stroke-width="2.6"/>
<circle cx="544" cy="6.6" r="8.2" fill="none" stroke="#1a4aa8" stroke-width="0.6"/>
<path d="M544 2.6 V7 H547" fill="none" stroke="#444" stroke-width="1.1"/>
<path d="M559 6h5v1h-1v1h-1v1h-1v-1h-1v-1h-1z" fill="#000" shape-rendering="crispEdges"/>
<rect x="575" y="-1" width="16" height="14.6" fill="#fff" stroke="#3a72d0" stroke-width="1.2"/>
<rect x="575" y="-1" width="16" height="2.6" fill="#4a86e0"/>
<path d="M577 6 L580 5 L583 5.6 L586 4.2 L589 4" fill="none" stroke="#b02a10" stroke-width="1.2"/>
<rect x="575" y="7.6" width="16" height="1" fill="#3a72d0"/>
<path d="M577 11.4 L580 10.4 L582.6 11.4 L585.6 9.6 L588.6 11.2" fill="none" stroke="#1a9a1a" stroke-width="1.2"/>
<path d="M598 6h5v1h-1v1h-1v1h-1v-1h-1v-1h-1z" fill="#000" shape-rendering="crispEdges"/>
<rect x="609" y="0" width="1" height="17" fill="#a0a0a0" shape-rendering="crispEdges"/>
<rect x="613" y="1" width="3" height="1" fill="#b4b4b4" shape-rendering="crispEdges"/>
<rect x="613" y="3" width="3" height="1" fill="#b4b4b4" shape-rendering="crispEdges"/>
<rect x="613" y="5" width="3" height="1" fill="#b4b4b4" shape-rendering="crispEdges"/>
<rect x="613" y="7" width="3" height="1" fill="#b4b4b4" shape-rendering="crispEdges"/>
<rect x="613" y="9" width="3" height="1" fill="#b4b4b4" shape-rendering="crispEdges"/>
<rect x="613" y="11" width="3" height="1" fill="#b4b4b4" shape-rendering="crispEdges"/>
<rect x="613" y="13" width="3" height="1" fill="#b4b4b4" shape-rendering="crispEdges"/>
<rect x="613" y="15" width="3" height="1" fill="#b4b4b4" shape-rendering="crispEdges"/>
<rect x="619" y="0" width="1" height="17" fill="#a0a0a0" shape-rendering="crispEdges"/>
<rect x="620" y="0" width="24" height="17" fill="url(#chk)" shape-rendering="crispEdges"/>
<path d="M627 1 L627 12.4 L629.8 9.8 L632 14.2 L633.8 13.4 L631.6 9.2 L635.4 9.2 Z" fill="#4a4a4a"/>
<path d="M659.5 0 V15 M652 7.8 H667" stroke="#4a4a4a" stroke-width="1" fill="none" shape-rendering="crispEdges"/><rect x="658" y="6" width="3" height="3" fill="#f0f0f0"/>
<rect x="676" y="0" width="1" height="17" fill="#a0a0a0" shape-rendering="crispEdges"/>
<rect x="693.5" y="2" width="1" height="12" fill="#4a4a4a" shape-rendering="crispEdges"/>
<rect x="716" y="7" width="12" height="1" fill="#4a4a4a" shape-rendering="crispEdges"/>
<line x1="743.8" y1="14" x2="756.4" y2="2" stroke="#4a4a4a" stroke-width="1.1"/>
<path d="M770.5 11.5 L783.5 1 M772.5 13.5 L785 3.5 M774 4.5 V13 M777.5 2 V11 M781 0 V8.5" stroke="#4a4a4a" stroke-width="1" fill="none"/>
<text x="781" y="16.4" font-size="6.5" font-weight="bold" fill="#333">E</text>
<line x1="798.5" y1="0.5" x2="808.5" y2="0.5" stroke="#4a4a4a" stroke-width="1" stroke-dasharray="1 1" shape-rendering="crispEdges"/>
<line x1="798.5" y1="3.5" x2="808.5" y2="3.5" stroke="#4a4a4a" stroke-width="1" stroke-dasharray="1 1" shape-rendering="crispEdges"/>
<line x1="798.5" y1="6.5" x2="808.5" y2="6.5" stroke="#4a4a4a" stroke-width="1" stroke-dasharray="1 1" shape-rendering="crispEdges"/>
<line x1="798.5" y1="9.5" x2="808.5" y2="9.5" stroke="#4a4a4a" stroke-width="1" stroke-dasharray="1 1" shape-rendering="crispEdges"/>
<line x1="798.5" y1="12.5" x2="808.5" y2="12.5" stroke="#4a4a4a" stroke-width="1" stroke-dasharray="1 1" shape-rendering="crispEdges"/>
<text x="808.6" y="16.2" font-size="6.5" font-weight="bold" fill="#333">F</text>
<text x="829.4" y="12.2" font-size="11.5" font-weight="bold" fill="#7a7a7a">A</text>
<rect x="856.5" y="1.5" width="11" height="12" fill="none" stroke="#6a6a6a" stroke-width="1" stroke-dasharray="1 1" shape-rendering="crispEdges"/>
<text x="858.6" y="12" font-size="11" font-weight="bold" fill="#5a5a5a">T</text>
<path d="M886 1.4 L889.4 4.8 L886 8.2 L882.6 4.8 Z M893 7.6 L896.4 11 L893 14.4 L889.6 11 Z" fill="#4a4a4a"/>
<path d="M885 9 L887.6 12 L890.6 9.6" fill="none" stroke="#4a4a4a" stroke-width="1.4"/>
<path d="M904 6h5v1h-1v1h-1v1h-1v-1h-1v-1h-1z" fill="#000" shape-rendering="crispEdges"/>
<rect x="915" y="0" width="1" height="17" fill="#a0a0a0" shape-rendering="crispEdges"/>
<rect x="919" y="1" width="3" height="1" fill="#b4b4b4" shape-rendering="crispEdges"/>
<rect x="919" y="3" width="3" height="1" fill="#b4b4b4" shape-rendering="crispEdges"/>
<rect x="919" y="5" width="3" height="1" fill="#b4b4b4" shape-rendering="crispEdges"/>
<rect x="919" y="7" width="3" height="1" fill="#b4b4b4" shape-rendering="crispEdges"/>
<rect x="919" y="9" width="3" height="1" fill="#b4b4b4" shape-rendering="crispEdges"/>
<rect x="919" y="11" width="3" height="1" fill="#b4b4b4" shape-rendering="crispEdges"/>
<rect x="919" y="13" width="3" height="1" fill="#b4b4b4" shape-rendering="crispEdges"/>
<rect x="919" y="15" width="3" height="1" fill="#b4b4b4" shape-rendering="crispEdges"/>
<rect x="1065" y="0" width="1" height="17" fill="#a0a0a0" shape-rendering="crispEdges"/>
<rect x="1066" y="0" width="24" height="17" fill="url(#chk)" shape-rendering="crispEdges"/>
<rect x="1176" y="0" width="1" height="17" fill="#a0a0a0" shape-rendering="crispEdges"/>
<text transform="translate(930.3 11) scale(0.92 1)" font-size="10.1" fill="#3c3c3c" stroke="#3c3c3c" stroke-width="0.15">M1</text>
<text transform="translate(958.4 11) scale(0.92 1)" font-size="10.1" fill="#3c3c3c" stroke="#3c3c3c" stroke-width="0.15">M5</text>
<text transform="translate(984.6 11) scale(0.92 1)" font-size="10.1" fill="#3c3c3c" stroke="#3c3c3c" stroke-width="0.15">M15</text>
<text transform="translate(1012.3 11) scale(0.92 1)" font-size="10.1" fill="#3c3c3c" stroke="#3c3c3c" stroke-width="0.15">M30</text>
<text transform="translate(1043.5 11) scale(0.92 1)" font-size="10.1" fill="#3c3c3c" stroke="#3c3c3c" stroke-width="0.15">H1</text>
<text transform="translate(1070.7 11) scale(0.92 1)" font-size="10.1" fill="#3c3c3c" stroke="#3c3c3c" stroke-width="0.15">H4</text>
<text transform="translate(1099.8 11) scale(0.92 1)" font-size="10.1" fill="#3c3c3c" stroke="#3c3c3c" stroke-width="0.15">D1</text>
<text transform="translate(1127 11) scale(0.92 1)" font-size="10.1" fill="#3c3c3c" stroke="#3c3c3c" stroke-width="0.15">W1</text>
<text transform="translate(1153.7 11) scale(0.92 1)" font-size="10.1" fill="#3c3c3c" stroke="#3c3c3c" stroke-width="0.15">MN</text>
<line x1="1639" y1="12.4" x2="1643.4" y2="7.6" stroke="#1f5ad8" stroke-width="2.2" stroke-linecap="round"/>
<circle cx="1646.4" cy="4.2" r="3.9" fill="#f4f8ff" stroke="#2a62dc" stroke-width="1.5"/>
<path d="M1664 9.6 C1664 6.6 1667 5 1670 5 C1674 5 1676 7 1676 9.4 C1676 12 1673.4 13.6 1670 13.6 L1666.6 15.4 L1667.4 13 C1665.2 12.4 1664 11.2 1664 9.6 Z" fill="#e2e2e8" stroke="#a4a4a4" stroke-width="1"/>
<circle cx="1677.5" cy="4.5" r="8.2" fill="#dc2c14"/>
<text x="1677.6" y="8.8" font-size="11.5" fill="#fff" text-anchor="middle" font-family="&quot;DejaVu Sans&quot;, sans-serif">1</text>
</g></g>
</svg>
</body></html>
